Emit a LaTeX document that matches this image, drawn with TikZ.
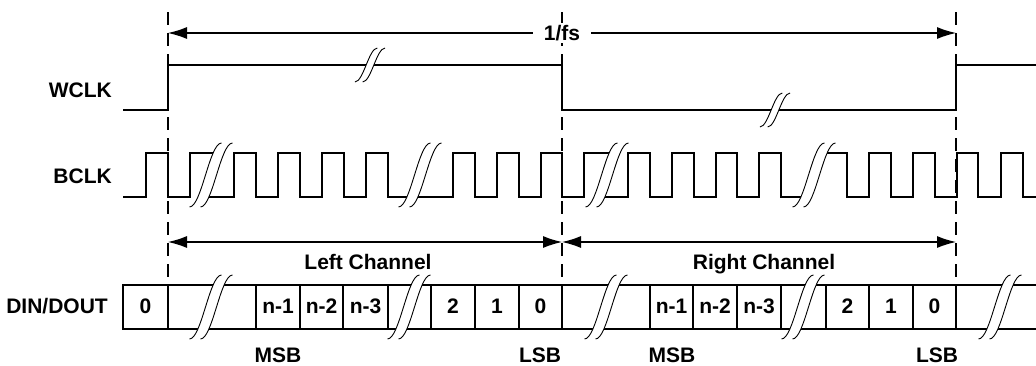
\documentclass[tikz,border=0pt]{standalone}
\usepackage{fontspec}
\setmainfont{Liberation Sans}
\usetikzlibrary{arrows.meta}

\begin{document}
\begin{tikzpicture}[x=1pt, y=-1pt,
    lbl/.style = {font=\fontsize{21}{25}\selectfont\bfseries, inner sep=0pt, anchor=base},
    wave/.style = {line width=2.6pt},
    cellline/.style = {line width=2.4pt},
    dim/.style = {line width=1.2pt, {Latex[length=19pt,width=12pt]}-{Latex[length=19pt,width=12pt]}},
    guide/.style = {line width=1.2pt, dash pattern=on 13pt off 8pt},
    brk/.pic = {
        \fill[white] (-21.5,32) .. controls (-9.5,32) and (-1.5,-32) .. (10.5,-32)
            -- (21.5,-32) .. controls (9.5,-32) and (1.5,32) .. (-10.5,32) -- cycle;
        \draw[line width=0.9pt] (-21.5,32) .. controls (-9.5,32) and (-1.5,-32) .. (10.5,-32);
        \draw[line width=0.9pt] (-10.5,32) .. controls (1.5,32) and (9.5,-32) .. (21.5,-32);
    }]
    \useasboundingbox (0,0) rectangle (1036,365);

    \foreach \x in {168,562,956}
        \draw[guide] (\x,12) -- (\x,285);

    \node[lbl, anchor=base east] (W) at (112,97) {WCLK};
    \node[lbl, anchor=base east] (B) at (112,183) {BCLK};
    \node[lbl, anchor=base east] (D) at (108,313) {DIN/DOUT};

    \draw[wave] (123,110) -- (168,110) -- (168,65) -- (562,65) -- (562,110)
        -- (956,110) -- (956,65) -- (1036,65);

    \draw[wave] (123,197) -- (146,197) -- (146,153) -- (168,153) -- (168,197)
        -- (190,197) -- (190,153) -- (217,153);
    \draw[wave] (205,197) -- (234,197) -- (234,153) -- (256,153) -- (256,197)
        -- (278,197) -- (278,153) -- (300,153) -- (300,197) -- (322,197) -- (322,153)
        -- (344,153) -- (344,197) -- (366,197) -- (366,153) -- (388,153) -- (388,197)
        -- (453,197) -- (453,153) -- (475,153) -- (475,197) -- (497,197) -- (497,153)
        -- (519,153) -- (519,197) -- (541,197) -- (541,153) -- (562,153) -- (562,197)
        -- (584,197) -- (584,153) -- (613,153);
    \draw[wave] (601,197) -- (628,197) -- (628,153) -- (650,153) -- (650,197)
        -- (672,197) -- (672,153) -- (694,153) -- (694,197) -- (716,197) -- (716,153)
        -- (737,153) -- (737,197) -- (759,197) -- (759,153) -- (781,153) -- (781,197)
        -- (808,197);
    \draw[wave] (820,153) -- (847,153) -- (847,197) -- (869,197) -- (869,153)
        -- (891,153) -- (891,197) -- (913,197) -- (913,153) -- (935,153) -- (935,197)
        -- (957,197) -- (957,153) -- (978,153) -- (978,197) -- (1001,197) -- (1001,153)
        -- (1023,153) -- (1023,197) -- (1036,197);

    \draw[cellline] (1036,285) -- (123,285) -- (123,329) -- (1036,329);
    \foreach \x in {168,256,300,343,388,431,475,519,562,650,693,737,781,826,869,913,956}
        \draw[cellline] (\x,285) -- (\x,329);

    \foreach \x in {211,420,607,814}
        \path (\x,175) pic {brk};
    \foreach \x in {211,409,606,803,1000}
        \path (\x,307) pic {brk};
    \path (370,65) pic[xscale=0.7, yscale=0.53] {brk};
    \path (775,110) pic[xscale=0.7, yscale=0.53] {brk};

    \foreach \x/\t [count=\i] in {145.5/0, 278/n-1, 321.5/n-2, 365.5/n-3, 453/2, 497/1,
        540.5/0, 671.5/n-1, 715/n-2, 759/n-3, 847.5/2, 891/1, 934.5/0}
        \node[lbl] (c\i) at (\x,313) {\t};

    \coordinate (fsL) at (168,33);
    \coordinate (fsR) at (956,33);
    \draw[dim] (fsL) -- node[lbl, anchor=center, fill=white, inner xsep=11pt, inner ysep=2pt] (fs) {1/fs} (fsR);

    \coordinate (chL) at (168,242);
    \coordinate (chM) at (562,242);
    \coordinate (chR) at (956,242);
    \draw[dim] (chL) -- (chM);
    \draw[dim] (chM) -- (chR);
    \node[lbl] (LC) at (368,269) {Left Channel};
    \node[lbl] (RC) at (764,269) {Right Channel};

    \node[lbl] (M1) at (278,362) {MSB};
    \node[lbl] (L1) at (540,362) {LSB};
    \node[lbl] (M2) at (672,362) {MSB};
    \node[lbl] (L2) at (937,362) {LSB};
\end{tikzpicture}
\end{document}
